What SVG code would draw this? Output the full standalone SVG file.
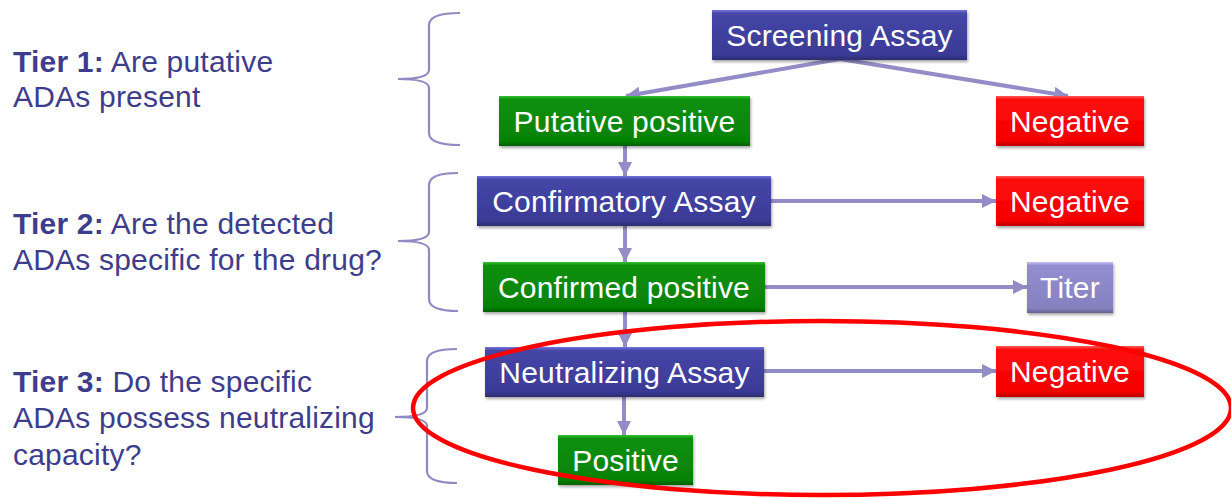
<svg xmlns="http://www.w3.org/2000/svg" width="1231" height="499" viewBox="0 0 1231 499">
<style>
.lbl{font-family:"Liberation Sans",Arial,sans-serif;font-size:30px;letter-spacing:0.2px;fill:#3d3d8c}
.lbl .b{font-weight:bold}
.bt{font-family:"Liberation Sans",Arial,sans-serif;font-size:30px;letter-spacing:0.2px;fill:#ffffff;text-anchor:middle}
.brace{fill:none;stroke:#8f8ac4;stroke-width:2.2}
.conn{stroke:#928dc6;stroke-width:4;fill:none;marker-end:url(#ah)}
.blue{fill:url(#gBlue)}
.green{fill:url(#gGreen)}
.red{fill:url(#gRed)}
.lilac{fill:url(#gLilac)}
.box{filter:url(#sh)}
</style>
<defs>
<linearGradient id="gBlue" x1="0" y1="0" x2="0" y2="1">
<stop offset="0" stop-color="#7474e0"/><stop offset="0.07" stop-color="#4646a8"/><stop offset="0.9" stop-color="#3a3a96"/><stop offset="1" stop-color="#2c2c70"/>
</linearGradient>
<linearGradient id="gGreen" x1="0" y1="0" x2="0" y2="1">
<stop offset="0" stop-color="#33c233"/><stop offset="0.07" stop-color="#0a900a"/><stop offset="0.9" stop-color="#068206"/><stop offset="1" stop-color="#046004"/>
</linearGradient>
<linearGradient id="gRed" x1="0" y1="0" x2="0" y2="1">
<stop offset="0" stop-color="#ff5a5a"/><stop offset="0.07" stop-color="#ff0d0d"/><stop offset="0.9" stop-color="#f40000"/><stop offset="1" stop-color="#b80000"/>
</linearGradient>
<linearGradient id="gLilac" x1="0" y1="0" x2="0" y2="1">
<stop offset="0" stop-color="#c4c0f4"/><stop offset="0.07" stop-color="#928ed0"/><stop offset="0.9" stop-color="#8682c0"/><stop offset="1" stop-color="#666294"/>
</linearGradient>
<filter id="sh" x="-10%" y="-20%" width="120%" height="150%">
<feDropShadow dx="1" dy="2" stdDeviation="1.5" flood-color="#000" flood-opacity="0.35"/>
</filter>
<marker id="ah" markerUnits="userSpaceOnUse" markerWidth="15" markerHeight="14" refX="14" refY="7" orient="auto">
<path d="M0,0 L14,7 L0,14 z" fill="#928dc6"/>
</marker>
</defs>
<rect width="1231" height="499" fill="#ffffff"/>

<g id="labels">
<text class="lbl" x="13" y="72"><tspan class="b">Tier 1:</tspan> Are putative</text>
<text class="lbl" x="13" y="107">ADAs present</text>
<text class="lbl" x="13" y="234"><tspan class="b">Tier 2:</tspan> Are the detected</text>
<text class="lbl" x="13" y="270">ADAs specific for the drug?</text>
<text class="lbl" x="13" y="392"><tspan class="b">Tier 3:</tspan> Do the specific</text>
<text class="lbl" x="13" y="428">ADAs possess neutralizing</text>
<text class="lbl" x="13" y="465">capacity?</text>
</g>

<g id="braces">
<path class="brace" d="M460,13 Q429,13 429,25 L429,70 Q429,79 398,79 Q429,79 429,88 L429,133 Q429,145 460,145"/>
<path class="brace" d="M458,173 Q429,173 429,185 L429,232 Q429,241 398,241 Q429,241 429,250 L429,299 Q429,311 458,311"/>
<path class="brace" d="M457,349 Q427,349 427,361 L427,408 Q427,417 395,417 Q427,417 427,426 L427,471 Q427,483 457,483"/>
</g>

<g id="connectors">
<line class="conn" x1="840" y1="59" x2="626" y2="96"/>
<line class="conn" x1="840" y1="59" x2="1068" y2="96"/>
<line class="conn" x1="625" y1="146" x2="625" y2="176"/>
<line class="conn" x1="771" y1="201" x2="996" y2="201"/>
<line class="conn" x1="625" y1="226" x2="625" y2="262"/>
<line class="conn" x1="765" y1="287" x2="1027" y2="287"/>
<line class="conn" x1="625" y1="312" x2="625" y2="347"/>
<line class="conn" x1="764" y1="371" x2="996" y2="371"/>
<line class="conn" x1="624" y1="397" x2="624" y2="435"/>
</g>

<g id="screening"><rect class="box blue" x="712" y="10" width="255" height="50"/><text class="bt" x="839.5" y="45.5">Screening Assay</text></g>
<g id="putative"><rect class="box green" x="499" y="96" width="251" height="50"/><text class="bt" x="624.5" y="131.5">Putative positive</text></g>
<g id="negative1"><rect class="box red" x="996" y="96" width="148" height="50"/><text class="bt" x="1070" y="131.5">Negative</text></g>
<g id="confirmatory"><rect class="box blue" x="477" y="176" width="294" height="50"/><text class="bt" x="624" y="211.5">Confirmatory Assay</text></g>
<g id="negative2"><rect class="box red" x="996" y="176" width="148" height="50"/><text class="bt" x="1070" y="211.5">Negative</text></g>
<g id="confirmed"><rect class="box green" x="483" y="262" width="282" height="50"/><text class="bt" x="624" y="297.5">Confirmed positive</text></g>
<g id="titer"><rect class="box lilac" x="1027" y="262" width="86" height="51"/><text class="bt" x="1070" y="298">Titer</text></g>
<g id="neutralizing"><rect class="box blue" x="485" y="347" width="279" height="50"/><text class="bt" x="624.5" y="382.5">Neutralizing Assay</text></g>
<g id="negative3"><rect class="box red" x="996" y="346" width="148" height="51"/><text class="bt" x="1070" y="382">Negative</text></g>
<g id="positive"><rect class="box green" x="558" y="435" width="135" height="50"/><text class="bt" x="625.5" y="470.5">Positive</text></g>

<ellipse id="highlight" cx="822" cy="408" rx="409" ry="87" fill="none" stroke="#ff0000" stroke-width="4.5"/>
</svg>
